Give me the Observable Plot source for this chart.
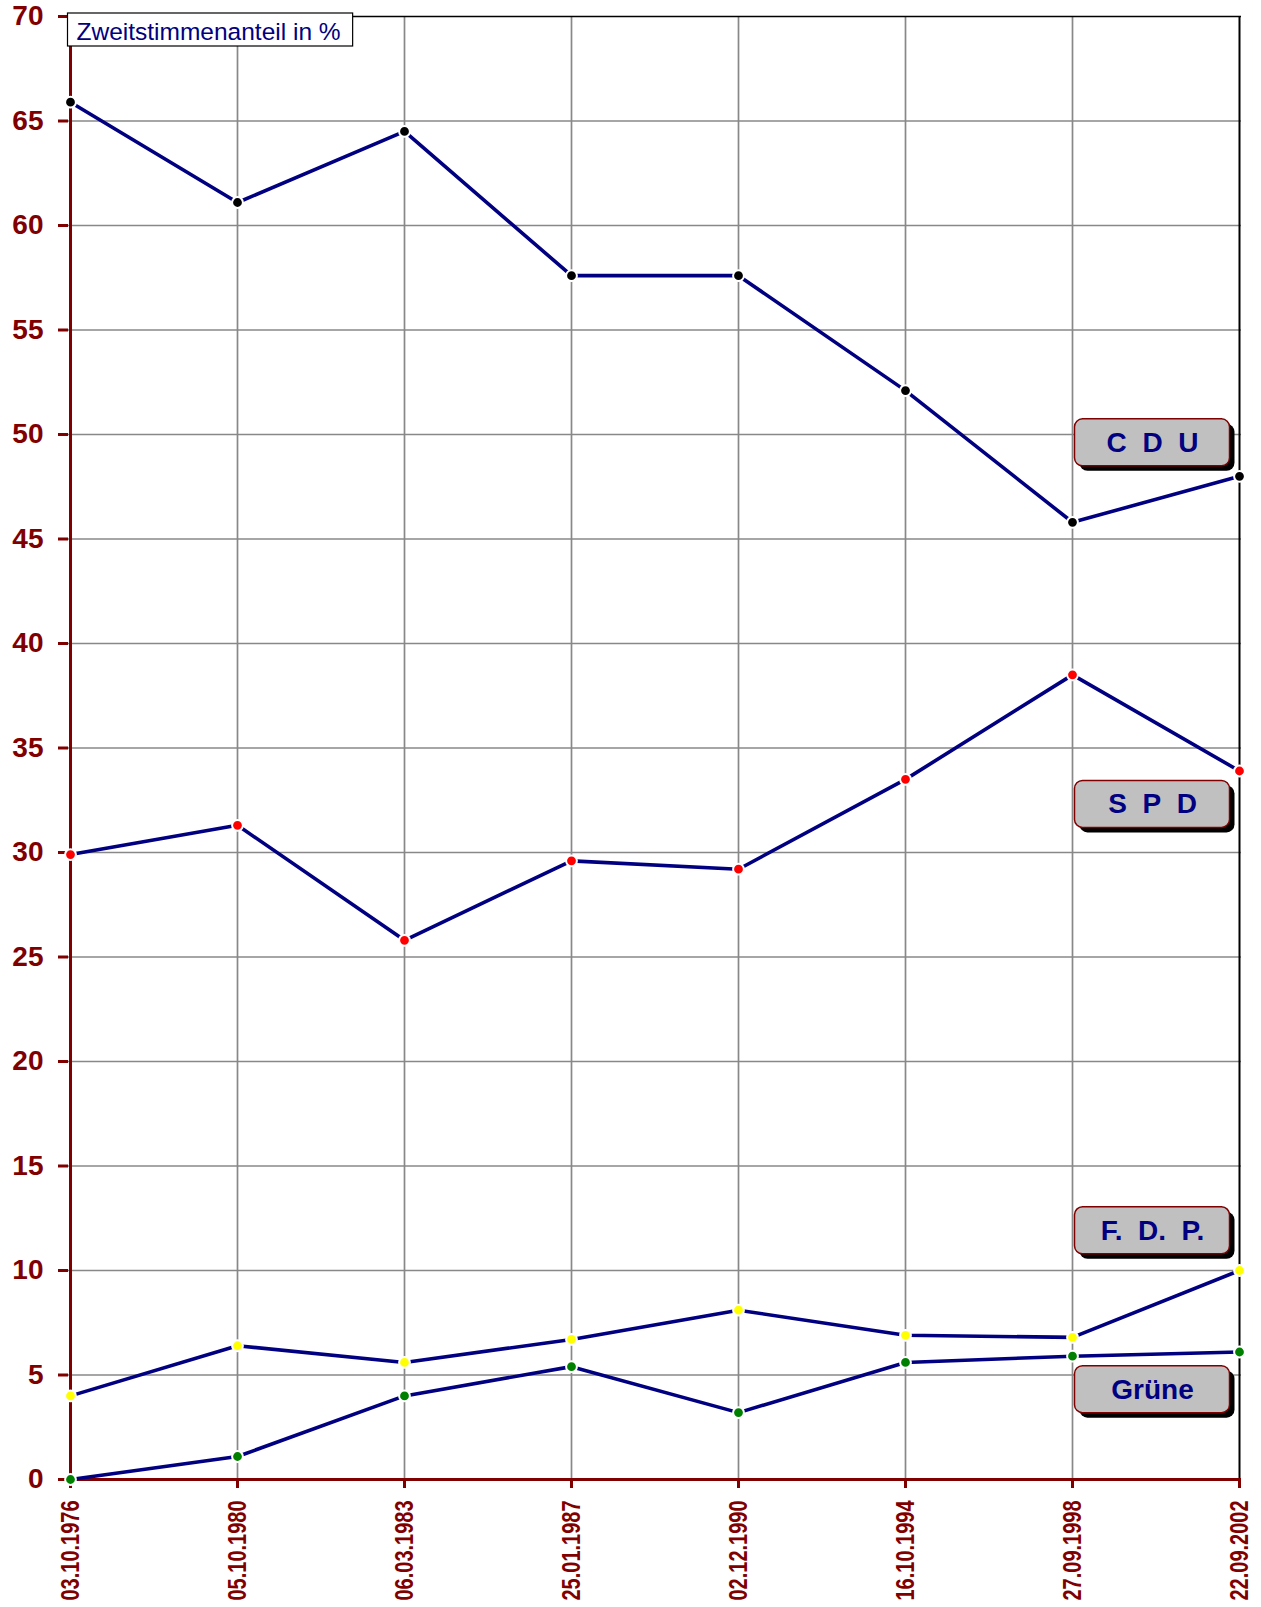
<!DOCTYPE html>
<html><head><meta charset="utf-8">
<script src="https://cdn.jsdelivr.net/npm/d3@7"></script>
<script src="https://cdn.jsdelivr.net/npm/@observablehq/plot@0.6"></script>
<style>html,body{margin:0;padding:0;background:#fff} svg{display:block}</style>
</head><body><div id="chart"></div>
<script>
const dates = ["03.10.1976","05.10.1980","06.03.1983","25.01.1987","02.12.1990","16.10.1994","27.09.1998","22.09.2002"];
const cdu = [65.9,61.1,64.5,57.6,57.6,52.1,45.8,48.0];
const spd = [29.9,31.3,25.8,29.6,29.2,33.5,38.5,33.9];
const fdp = [4.0,6.4,5.6,6.7,8.1,6.9,6.8,10.0];
const gruene = [0.0,1.1,4.0,5.4,3.2,5.6,5.9,6.1];
const parties = ["CDU","SPD","FDP","Grüne"];
const partyLabels = ["C\u00a0\u00a0D\u00a0\u00a0U","S\u00a0\u00a0P\u00a0\u00a0D","F.\u00a0\u00a0D.\u00a0\u00a0P.","Grüne"];
const partyColors = ["#000000","#ff0000","#ffff00","#008000"];
const labelValues = [49.6, 32.3, 11.9, 4.3];
const yTicks = [0,5,10,15,20,25,30,35,40,45,50,55,60,65,70];
const yTitle = "Zweitstimmenanteil in %";

const series = [cdu, spd, fdp, gruene];
const rows = [];
series.forEach((vals, p) => vals.forEach((v, i) => rows.push({party: parties[p], date: dates[i], value: v})));
const labelRows = parties.map((p, i) => ({party: p, label: partyLabels[i], date: dates[dates.length-1], value: labelValues[i]}));

const W = 1261, H = 1607;
const dark = "#800000", navy = "#000080", grid = "#888888";
const mT = 16, mL = 68, mR = 20, mB = 128;
const labelDx = -87;

const plot = Plot.plot({
  width: W, height: H,
  marginLeft: mL, marginRight: mR, marginTop: mT, marginBottom: mB,
  x: {type: "point", domain: dates, padding: 0},
  y: {domain: [0, 70]},
  color: {domain: parties, range: partyColors},
  style: {background: "#fff", fontFamily: "'Liberation Sans', Arial, sans-serif", color: dark, overflow: "visible"},
  marks: [
    Plot.ruleY(yTicks.filter(d => d > 0 && d < 70), {stroke: grid, strokeWidth: 1.7}),
    Plot.ruleX(dates.slice(1, -1), {stroke: grid, strokeWidth: 1.7}),
    Plot.ruleY([70], {stroke: "#000", strokeWidth: 1.5}),
    Plot.ruleX([dates[dates.length-1]], {stroke: "#000", strokeWidth: 2}),
    Plot.axisY({ticks: yTicks, tickSize: 10, tickPadding: 15, color: dark, strokeWidth: 3, fontSize: 28, fontWeight: "bold", label: null}),
    Plot.axisX({tickSize: 9, tickPadding: 12, tickRotate: -90, color: dark, strokeWidth: 3, fontSize: 26, fontWeight: "bold", label: null}),
    Plot.ruleX([dates[0]], {stroke: dark, strokeWidth: 3}),
    Plot.ruleY([0], {stroke: dark, strokeWidth: 3}),
    Plot.line(rows, {x: "date", y: "value", z: "party", stroke: navy, strokeWidth: 3.6}),
    Plot.dot(rows, {x: "date", y: "value", fill: "party", stroke: "#fff", strokeWidth: 2, r: 5.4}),
    Plot.text(labelRows, {x: "date", y: "value", text: "label", dx: labelDx, fill: navy, fontSize: 28, fontWeight: "bold"}),
    Plot.text([yTitle], {frameAnchor: "top-left", dx: 8, dy: 6, fill: navy, fontSize: 24.5, textAnchor: "start", lineAnchor: "top"})
  ]
});
document.getElementById("chart").appendChild(plot);

const svg = d3.select(plot);
const xs = plot.scale("x"), ys = plot.scale("y");

// condense x tick labels
svg.selectAll("text").filter(function() { return dates.includes(this.textContent); })
  .attr("textLength", 100).attr("lengthAdjust", "spacingAndGlyphs");

// label boxes
const labelText = svg.selectAll("text").filter(function() { return this.textContent === partyLabels[0]; }).node();
const labelG = labelText.parentNode;
const boxG = d3.create("svg:g").attr("aria-label", "party-boxes");
const bw = 155, bh = 47;
labelRows.forEach(d => {
  const cx = xs.apply(d.date) + labelDx, cy = ys.apply(d.value);
  boxG.append("rect").attr("x", cx - bw/2 + 5).attr("y", cy - bh/2 + 5).attr("width", bw).attr("height", bh)
    .attr("rx", 8).attr("fill", "#000");
  boxG.append("rect").attr("x", cx - bw/2).attr("y", cy - bh/2).attr("width", bw).attr("height", bh)
    .attr("rx", 8).attr("fill", "#c0c0c0").attr("stroke", dark).attr("stroke-width", 1.5);
});
labelG.parentNode.insertBefore(boxG.node(), labelG);

// title box
const titleText = svg.selectAll("text").filter(function() { return this.textContent === yTitle; }).node();
const titleG = titleText.parentNode;
const sr = plot.getBoundingClientRect();
const tb = titleText.getBoundingClientRect();
const tx = tb.left - sr.left;
const tr = d3.create("svg:rect").attr("x", tx - 9).attr("y", mT - 3).attr("width", tb.width + 21).attr("height", 33)
  .attr("fill", "#fff").attr("stroke", "#000").attr("stroke-width", 1.2);
titleG.parentNode.insertBefore(tr.node(), titleG);
</script>
</body></html>
